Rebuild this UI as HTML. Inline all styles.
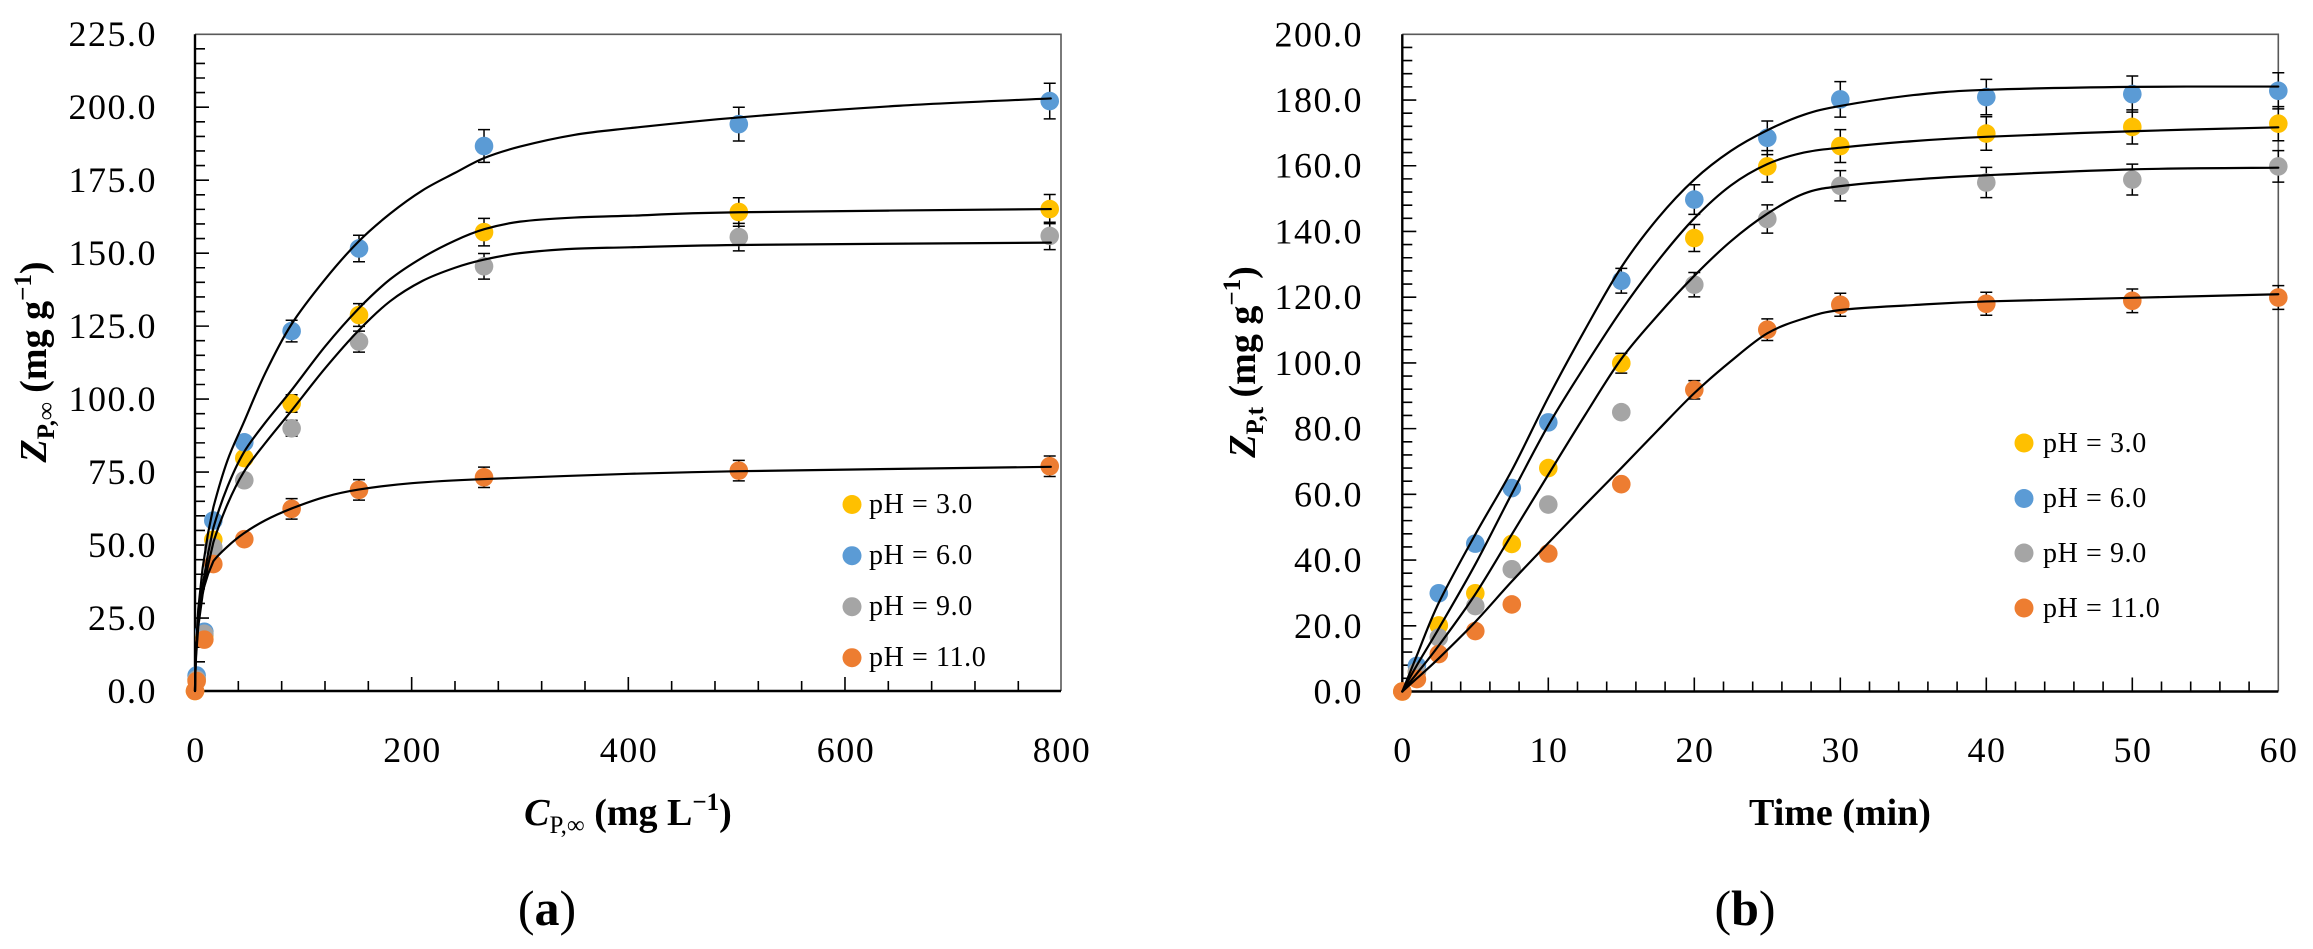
<!DOCTYPE html>
<html>
<head>
<meta charset="utf-8">
<style>
html,body{margin:0;padding:0;background:#fff;}
svg{display:block;}
.tk{font-family:"Liberation Serif",serif;font-size:36px;fill:#000;letter-spacing:1.5px;}
.ttl{font-family:"Liberation Serif",serif;font-size:38px;font-weight:bold;fill:#000;}
.lg{font-family:"Liberation Serif",serif;font-size:28px;fill:#000;letter-spacing:0.6px;}
.ns{vector-effect:non-scaling-stroke;}
</style>
</head>
<body>
<svg width="2313" height="949" viewBox="0 0 2313 949" xmlns="http://www.w3.org/2000/svg">
<rect width="2313" height="949" fill="#fff"/>

<!-- ===================== LEFT CHART ===================== -->
<path d="M195 34.3H1061V691" fill="none" stroke="#595959" stroke-width="1.6"/>
<path d="M195 34.3V691H1061" fill="none" stroke="#000" stroke-width="2.4"/>

<g transform="translate(195,691) scale(1.0833,-2.919)" fill="none" stroke="#000">
  <path class="ns" stroke-width="1.6" d="M0 5h9.23M0 10h9.23M0 15h9.23M0 20h9.23M0 30h9.23M0 35h9.23M0 40h9.23M0 45h9.23M0 55h9.23M0 60h9.23M0 65h9.23M0 70h9.23M0 80h9.23M0 85h9.23M0 90h9.23M0 95h9.23M0 105h9.23M0 110h9.23M0 115h9.23M0 120h9.23M0 130h9.23M0 135h9.23M0 140h9.23M0 145h9.23M0 155h9.23M0 160h9.23M0 165h9.23M0 170h9.23M0 180h9.23M0 185h9.23M0 190h9.23M0 195h9.23M0 205h9.23M0 210h9.23M0 215h9.23M0 220h9.23
  M0 25h12.92M0 50h12.92M0 75h12.92M0 100h12.92M0 125h12.92M0 150h12.92M0 175h12.92M0 200h12.92"/>
  <path class="ns" stroke-width="1.6" d="M40 0v3.43M80 0v3.43M120 0v3.43M160 0v3.43M240 0v3.43M280 0v3.43M320 0v3.43M360 0v3.43M440 0v3.43M480 0v3.43M520 0v3.43M560 0v3.43M640 0v3.43M680 0v3.43M720 0v3.43M760 0v3.43
  M200 0v4.8M400 0v4.8M600 0v4.8"/>
</g>

<g transform="translate(195,691) scale(1.0833,-2.919)">
  <!-- yellow pH 3 -->
  <path class="ns" stroke="#000" stroke-width="1.5" fill="none" d="M89.2 95.5V101.5M83.66 95.5H94.74M83.66 101.5H94.74M151.4 124.9V132.7M145.86 124.9H156.94M145.86 132.7H156.94M266.8 152.5V161.9M261.26 152.5H272.34M261.26 161.9H272.34M502 159.2V169M496.46 159.2H507.54M496.46 169H507.54M789 160.1V170.1M783.46 160.1H794.54M783.46 170.1H794.54"/>
  <g fill="#FFC000">
    <ellipse cx="0" cy="0" rx="8.585" ry="3.186"/>
    <ellipse cx="1.5" cy="4" rx="8.585" ry="3.186"/>
    <ellipse cx="8.6" cy="19" rx="8.585" ry="3.186"/>
    <ellipse cx="16.9" cy="51.8" rx="8.585" ry="3.186"/>
    <ellipse cx="45.5" cy="79.8" rx="8.585" ry="3.186"/>
    <ellipse cx="89.2" cy="98.5" rx="8.585" ry="3.186"/>
    <ellipse cx="151.4" cy="128.8" rx="8.585" ry="3.186"/>
    <ellipse cx="266.8" cy="157.2" rx="8.585" ry="3.186"/>
    <ellipse cx="502" cy="164.1" rx="8.585" ry="3.186"/>
    <ellipse cx="789" cy="165.1" rx="8.585" ry="3.186"/>
  </g>
  <!-- blue pH 6 -->
  <path class="ns" stroke="#000" stroke-width="1.5" fill="none" d="M89.2 119.6V127M83.66 119.6H94.74M83.66 127H94.74M151.4 147.05V156.15M145.86 147.05H156.94M145.86 156.15H156.94M266.8 181.1V192.3M261.26 181.1H272.34M261.26 192.3H272.34M502 188.4V200M496.46 188.4H507.54M496.46 200H507.54M789 196V208.2M783.46 196H794.54M783.46 208.2H794.54"/>
  <g fill="#5B9BD5">
    <ellipse cx="1.5" cy="5.3" rx="8.585" ry="3.186"/>
    <ellipse cx="8.6" cy="20.3" rx="8.585" ry="3.186"/>
    <ellipse cx="16.9" cy="58.4" rx="8.585" ry="3.186"/>
    <ellipse cx="45.5" cy="85.2" rx="8.585" ry="3.186"/>
    <ellipse cx="89.2" cy="123.3" rx="8.585" ry="3.186"/>
    <ellipse cx="151.4" cy="151.6" rx="8.585" ry="3.186"/>
    <ellipse cx="266.8" cy="186.7" rx="8.585" ry="3.186"/>
    <ellipse cx="502" cy="194.2" rx="8.585" ry="3.186"/>
    <ellipse cx="789" cy="202.1" rx="8.585" ry="3.186"/>
  </g>
  <!-- gray pH 9 -->
  <path class="ns" stroke="#000" stroke-width="1.5" fill="none" d="M89.2 87.3V92.7M83.66 87.3H94.74M83.66 92.7H94.74M151.4 116.1V123.3M145.86 116.1H156.94M145.86 123.3H156.94M266.8 141.1V149.9M261.26 141.1H272.34M261.26 149.9H272.34M502 150.8V160.2M496.46 150.8H507.54M496.46 160.2H507.54M789 151.2V160.6M783.46 151.2H794.54M783.46 160.6H794.54"/>
  <g fill="#A5A5A5">
    <ellipse cx="1.5" cy="4" rx="8.585" ry="3.186"/>
    <ellipse cx="8.6" cy="19.6" rx="8.585" ry="3.186"/>
    <ellipse cx="16.9" cy="49.2" rx="8.585" ry="3.186"/>
    <ellipse cx="45.5" cy="72.2" rx="8.585" ry="3.186"/>
    <ellipse cx="89.2" cy="90" rx="8.585" ry="3.186"/>
    <ellipse cx="151.4" cy="119.7" rx="8.585" ry="3.186"/>
    <ellipse cx="266.8" cy="145.5" rx="8.585" ry="3.186"/>
    <ellipse cx="502" cy="155.5" rx="8.585" ry="3.186"/>
    <ellipse cx="789" cy="155.9" rx="8.585" ry="3.186"/>
  </g>
  <!-- orange pH 11 -->
  <path class="ns" stroke="#000" stroke-width="1.5" fill="none" d="M89.2 58.9V65.9M83.66 58.9H94.74M83.66 65.9H94.74M151.4 65.4V72.4M145.86 65.4H156.94M145.86 72.4H156.94M266.8 69.7V76.7M261.26 69.7H272.34M261.26 76.7H272.34M502 72V79M496.46 72H507.54M496.46 79H507.54M789 73.5V80.5M783.46 73.5H794.54M783.46 80.5H794.54"/>
  <g fill="#ED7D31">
    <ellipse cx="0" cy="0" rx="8.585" ry="3.186"/>
    <ellipse cx="1.5" cy="3.4" rx="8.585" ry="3.186"/>
    <ellipse cx="8.6" cy="17.6" rx="8.585" ry="3.186"/>
    <ellipse cx="16.9" cy="43.5" rx="8.585" ry="3.186"/>
    <ellipse cx="45.5" cy="52" rx="8.585" ry="3.186"/>
    <ellipse cx="89.2" cy="62.4" rx="8.585" ry="3.186"/>
    <ellipse cx="151.4" cy="68.9" rx="8.585" ry="3.186"/>
    <ellipse cx="266.8" cy="73.2" rx="8.585" ry="3.186"/>
    <ellipse cx="502" cy="75.5" rx="8.585" ry="3.186"/>
    <ellipse cx="789" cy="77" rx="8.585" ry="3.186"/>
  </g>
  <!-- fitted curves (smoothed) -->
  <g fill="none" stroke="#000" stroke-width="2.2" stroke-linejoin="round" stroke-linecap="round">
    <path class="ns" d="M0,0 L0.3,8 L1,15 L3,28 L7,42 L12,54 L17,63
      C20,67.17 25.33,74.17 30,79
      C34.67,83.83 39.17,87 45,92
      C50.83,97 57.67,103.4 65,109
      C72.33,114.6 79.83,120.27 89,125.6
      C98.17,130.93 109.67,136.27 120,141
      C130.33,145.73 141,150.25 151,154
      C161,157.75 170.17,160.58 180,163.5
      C189.83,166.42 200,169.17 210,171.5
      C220,173.83 230.5,175.65 240,177.5
      C249.5,179.35 257,181.1 267,182.6
      C277,184.1 286.17,185.18 300,186.5
      C313.83,187.82 333.17,189.45 350,190.5
      C366.83,191.55 375.67,191.8 401,192.8
      C426.33,193.8 460.5,195.22 502,196.5
      C543.5,197.78 602,199.42 650,200.5
      C698,201.58 766.67,202.58 790,203"/>
    <path class="ns" d="M0,0 L0.3,6 L1,13 L3,24 L7,36 L12,47 L17,56
      C20,59.83 25.33,65.72 30,70
      C34.67,74.28 39.17,78.03 45,81.7
      C50.83,85.37 57.67,88.45 65,92
      C72.33,95.55 79.83,98.67 89,103
      C98.17,107.33 109.67,113.33 120,118
      C130.33,122.67 141,127.17 151,131
      C161,134.83 170.17,138.08 180,141
      C189.83,143.92 200,146.28 210,148.5
      C220,150.72 230.5,152.68 240,154.3
      C249.5,155.92 257,157.12 267,158.2
      C277,159.28 286.17,160.13 300,160.8
      C313.83,161.47 333.17,161.87 350,162.2
      C366.83,162.53 375.67,162.5 401,162.8
      C426.33,163.1 437.17,163.62 502,164
      C566.83,164.38 742,164.92 790,165.1"/>
    <path class="ns" d="M0,0 L0.3,5 L1,12 L3,22 L7,33 L12,43 L17,51
      C20,54.5 25.33,60 30,64
      C34.67,68 39.17,71.5 45,75
      C50.83,78.5 57.67,81.5 65,85
      C72.33,88.5 79.83,91.75 89,96
      C98.17,100.25 109.67,105.92 120,110.5
      C130.33,115.08 141,119.67 151,123.5
      C161,127.33 170.17,130.67 180,133.5
      C189.83,136.33 200,138.58 210,140.5
      C220,142.42 230.5,143.78 240,145
      C249.5,146.22 257,146.97 267,147.8
      C277,148.63 286.17,149.38 300,150
      C313.83,150.62 333.17,151.17 350,151.5
      C366.83,151.83 375.67,151.78 401,152
      C426.33,152.22 437.17,152.53 502,152.8
      C566.83,153.07 742,153.47 790,153.6"/>
    <path class="ns" d="M0,0 L0.3,7 L1,15 L3,25 L7,34 L12,40 L17,44.5
      C20,46.08 25.33,47.92 30,49.5
      C34.67,51.08 39.17,52.5 45,54
      C50.83,55.5 57.67,57.08 65,58.5
      C72.33,59.92 79.83,61.17 89,62.5
      C98.17,63.83 109.67,65.42 120,66.5
      C130.33,67.58 137.67,68.22 151,69
      C164.33,69.78 180.67,70.6 200,71.2
      C219.33,71.8 233.5,72.07 267,72.6
      C300.5,73.13 361.83,73.95 401,74.4
      C430,74.75 470,75.05 502,75.3
      C566.83,75.7 742,76.55 790,76.8"/>
  </g>
</g>

<!-- left y tick labels -->
<g class="tk" text-anchor="end">
  <text x="157" y="703">0.0</text>
  <text x="157" y="630">25.0</text>
  <text x="157" y="557">50.0</text>
  <text x="157" y="484">75.0</text>
  <text x="157" y="411">100.0</text>
  <text x="157" y="338">125.0</text>
  <text x="157" y="265">150.0</text>
  <text x="157" y="192">175.0</text>
  <text x="157" y="119">200.0</text>
  <text x="157" y="46">225.0</text>
</g>
<g class="tk" text-anchor="middle">
  <text x="196" y="762">0</text>
  <text x="412.5" y="762">200</text>
  <text x="629" y="762">400</text>
  <text x="846" y="762">600</text>
  <text x="1062" y="762">800</text>
</g>

<text class="ttl" x="628" y="825" text-anchor="middle"><tspan font-style="italic">C</tspan><tspan font-size="25" font-weight="normal" dy="8">P,∞</tspan><tspan dy="-8"> (mg L</tspan><tspan font-size="25" dy="-15">−1</tspan><tspan dy="15">)</tspan></text>
<text class="ttl" transform="translate(46,362) rotate(-90)" text-anchor="middle"><tspan font-style="italic">Z</tspan><tspan font-size="25" dy="8">P,∞</tspan><tspan dy="-8"> (mg g</tspan><tspan font-size="25" dy="-15">−1</tspan><tspan dy="15">)</tspan></text>

<g>
  <circle cx="852" cy="504.5" r="9.5" fill="#FFC000"/>
  <circle cx="852" cy="555.7" r="9.5" fill="#5B9BD5"/>
  <circle cx="852" cy="606.7" r="9.5" fill="#A5A5A5"/>
  <circle cx="852" cy="657.7" r="9.5" fill="#ED7D31"/>
</g>
<g class="lg">
  <text x="869" y="513">pH = 3.0</text>
  <text x="869" y="564">pH = 6.0</text>
  <text x="869" y="615">pH = 9.0</text>
  <text x="869" y="666">pH = 11.0</text>
</g>

<text x="547" y="925" text-anchor="middle" font-family="Liberation Serif, serif" font-size="50" fill="#000">(<tspan font-weight="bold">a</tspan>)</text>

<!-- ===================== RIGHT CHART ===================== -->
<path d="M1402.3 34.3H2278.3V691.5" fill="none" stroke="#595959" stroke-width="1.6"/>
<path d="M1402.3 34.3V691.5H2278.3" fill="none" stroke="#000" stroke-width="2.4"/>

<g transform="translate(1402.3,691.5) scale(14.6,-3.286)" fill="none" stroke="#000">
  <path class="ns" stroke-width="1.6" d="M0 4h0.685M0 8h0.685M0 12h0.685M0 16h0.685M0 24h0.685M0 28h0.685M0 32h0.685M0 36h0.685M0 44h0.685M0 48h0.685M0 52h0.685M0 56h0.685M0 64h0.685M0 68h0.685M0 72h0.685M0 76h0.685M0 84h0.685M0 88h0.685M0 92h0.685M0 96h0.685M0 104h0.685M0 108h0.685M0 112h0.685M0 116h0.685M0 124h0.685M0 128h0.685M0 132h0.685M0 136h0.685M0 144h0.685M0 148h0.685M0 152h0.685M0 156h0.685M0 164h0.685M0 168h0.685M0 172h0.685M0 176h0.685M0 184h0.685M0 188h0.685M0 192h0.685M0 196h0.685
  M0 20h0.959M0 40h0.959M0 60h0.959M0 80h0.959M0 100h0.959M0 120h0.959M0 140h0.959M0 160h0.959M0 180h0.959"/>
  <path class="ns" stroke-width="1.6" d="M2 0v3.04M4 0v3.04M6 0v3.04M8 0v3.04M12 0v3.04M14 0v3.04M16 0v3.04M18 0v3.04M22 0v3.04M24 0v3.04M26 0v3.04M28 0v3.04M32 0v3.04M34 0v3.04M36 0v3.04M38 0v3.04M42 0v3.04M44 0v3.04M46 0v3.04M48 0v3.04M52 0v3.04M54 0v3.04M56 0v3.04M58 0v3.04
  M10 0v4.26M20 0v4.26M30 0v4.26M40 0v4.26M50 0v4.26"/>
</g>

<g transform="translate(1402.3,691.5) scale(14.6,-3.286)">
  <path class="ns" stroke="#000" stroke-width="1.5" fill="none" d="M15 96.9V102.9M14.59 96.9H15.41M14.59 102.9H15.41M20 133.9V142.1M19.59 133.9H20.41M19.59 142.1H20.41M25 155V164.6M24.59 155H25.41M24.59 164.6H25.41M30 161V171M29.59 161H30.41M29.59 171H30.41M40 164.7V174.9M39.59 164.7H40.41M39.59 174.9H40.41M50 166.6V177M49.59 166.6H50.41M49.59 177H50.41M60 167.6V178M59.59 167.6H60.41M59.59 178H60.41"/>
  <g fill="#FFC000">
    <ellipse cx="0" cy="0" rx="0.637" ry="2.83"/>
    <ellipse cx="1" cy="6" rx="0.637" ry="2.83"/>
    <ellipse cx="2.5" cy="20.1" rx="0.637" ry="2.83"/>
    <ellipse cx="5" cy="29.9" rx="0.637" ry="2.83"/>
    <ellipse cx="7.5" cy="44.9" rx="0.637" ry="2.83"/>
    <ellipse cx="10" cy="68" rx="0.637" ry="2.83"/>
    <ellipse cx="15" cy="99.9" rx="0.637" ry="2.83"/>
    <ellipse cx="20" cy="138" rx="0.637" ry="2.83"/>
    <ellipse cx="25" cy="159.8" rx="0.637" ry="2.83"/>
    <ellipse cx="30" cy="166" rx="0.637" ry="2.83"/>
    <ellipse cx="40" cy="169.8" rx="0.637" ry="2.83"/>
    <ellipse cx="50" cy="171.8" rx="0.637" ry="2.83"/>
    <ellipse cx="60" cy="172.8" rx="0.637" ry="2.83"/>
  </g>
  <path class="ns" stroke="#000" stroke-width="1.5" fill="none" d="M15 121.25V128.75M14.59 121.25H15.41M14.59 128.75H15.41M20 145.2V154.2M19.59 145.2H20.41M19.59 154.2H20.41M25 163.4V173.6M24.59 163.4H25.41M24.59 173.6H25.41M30 174.8V185.6M29.59 174.8H30.41M29.59 185.6H30.41M40 175.5V186.3M39.59 175.5H40.41M39.59 186.3H40.41M50 176.3V187.3M49.59 176.3H50.41M49.59 187.3H50.41M60 177.3V188.3M59.59 177.3H60.41M59.59 188.3H60.41"/>
  <g fill="#5B9BD5">
    <ellipse cx="1" cy="7.8" rx="0.637" ry="2.83"/>
    <ellipse cx="2.5" cy="29.9" rx="0.637" ry="2.83"/>
    <ellipse cx="5" cy="45" rx="0.637" ry="2.83"/>
    <ellipse cx="7.5" cy="61.9" rx="0.637" ry="2.83"/>
    <ellipse cx="10" cy="81.9" rx="0.637" ry="2.83"/>
    <ellipse cx="15" cy="125" rx="0.637" ry="2.83"/>
    <ellipse cx="20" cy="149.7" rx="0.637" ry="2.83"/>
    <ellipse cx="25" cy="168.5" rx="0.637" ry="2.83"/>
    <ellipse cx="30" cy="180.2" rx="0.637" ry="2.83"/>
    <ellipse cx="40" cy="180.9" rx="0.637" ry="2.83"/>
    <ellipse cx="50" cy="181.8" rx="0.637" ry="2.83"/>
    <ellipse cx="60" cy="182.8" rx="0.637" ry="2.83"/>
  </g>
  <path class="ns" stroke="#000" stroke-width="1.5" fill="none" d="M20 120.1V127.5M19.59 120.1H20.41M19.59 127.5H20.41M25 139.5V148.1M24.59 139.5H25.41M24.59 148.1H25.41M30 149.3V158.5M29.59 149.3H30.41M29.59 158.5H30.41M40 150.3V159.5M39.59 150.3H40.41M39.59 159.5H40.41M50 151.1V160.5M49.59 151.1H50.41M49.59 160.5H50.41M60 155V164.6M59.59 155H60.41M59.59 164.6H60.41"/>
  <g fill="#A5A5A5">
    <ellipse cx="1" cy="6" rx="0.637" ry="2.83"/>
    <ellipse cx="2.5" cy="16.4" rx="0.637" ry="2.83"/>
    <ellipse cx="5" cy="26" rx="0.637" ry="2.83"/>
    <ellipse cx="7.5" cy="37.2" rx="0.637" ry="2.83"/>
    <ellipse cx="10" cy="56.9" rx="0.637" ry="2.83"/>
    <ellipse cx="15" cy="85" rx="0.637" ry="2.83"/>
    <ellipse cx="20" cy="123.8" rx="0.637" ry="2.83"/>
    <ellipse cx="25" cy="143.8" rx="0.637" ry="2.83"/>
    <ellipse cx="30" cy="153.9" rx="0.637" ry="2.83"/>
    <ellipse cx="40" cy="154.9" rx="0.637" ry="2.83"/>
    <ellipse cx="50" cy="155.8" rx="0.637" ry="2.83"/>
    <ellipse cx="60" cy="159.8" rx="0.637" ry="2.83"/>
  </g>
  <path class="ns" stroke="#000" stroke-width="1.5" fill="none" d="M20 89V94.6M19.59 89H20.41M19.59 94.6H20.41M25 106.8V113.4M24.59 106.8H25.41M24.59 113.4H25.41M30 114.2V121.2M29.59 114.2H30.41M29.59 121.2H30.41M40 114.5V121.5M39.59 114.5H40.41M39.59 121.5H40.41M50 115.3V122.5M49.59 115.3H50.41M49.59 122.5H50.41M60 116.3V123.5M59.59 116.3H60.41M59.59 123.5H60.41"/>
  <g fill="#ED7D31">
    <ellipse cx="0" cy="0" rx="0.637" ry="2.83"/>
    <ellipse cx="1" cy="3.8" rx="0.637" ry="2.83"/>
    <ellipse cx="2.5" cy="11.4" rx="0.637" ry="2.83"/>
    <ellipse cx="5" cy="18.4" rx="0.637" ry="2.83"/>
    <ellipse cx="7.5" cy="26.5" rx="0.637" ry="2.83"/>
    <ellipse cx="10" cy="42" rx="0.637" ry="2.83"/>
    <ellipse cx="15" cy="63.1" rx="0.637" ry="2.83"/>
    <ellipse cx="20" cy="91.8" rx="0.637" ry="2.83"/>
    <ellipse cx="25" cy="110.1" rx="0.637" ry="2.83"/>
    <ellipse cx="30" cy="117.7" rx="0.637" ry="2.83"/>
    <ellipse cx="40" cy="118" rx="0.637" ry="2.83"/>
    <ellipse cx="50" cy="118.9" rx="0.637" ry="2.83"/>
    <ellipse cx="60" cy="119.9" rx="0.637" ry="2.83"/>
  </g>
  <g fill="none" stroke="#000" stroke-width="2.2" stroke-linejoin="round" stroke-linecap="round">
    <path class="ns" d="M0,0 C0.167,1.83 0.583,6.5 1,11
      C1.417,15.5 1.833,20.87 2.5,27
      C3.167,33.13 4.167,41.08 5,47.8
      C5.833,54.52 6.667,60.35 7.5,67.3
      C8.333,74.25 9.167,82.38 10,89.5
      C10.833,96.62 11.667,103.4 12.5,110
      C13.333,116.6 14.167,123.43 15,129.1
      C15.833,134.77 16.667,139.55 17.5,144
      C18.333,148.45 19.167,152.38 20,155.8
      C20.833,159.22 21.667,162 22.5,164.5
      C23.333,167 24.167,168.97 25,170.8
      C25.833,172.63 26.667,174.27 27.5,175.5
      C28.333,176.73 28.75,177.2 30,178.2
      C31.25,179.2 33.33,180.68 35,181.5
      C36.67,182.32 37.5,182.68 40,183.1
      C42.5,183.52 46.67,183.83 50,184
      C53.33,184.17 58.33,184.08 60,184.1"/>
    <path class="ns" d="M0,0 C0.167,1.33 0.583,4.8 1,8
      C1.417,11.2 1.833,14.08 2.5,19.2
      C3.167,24.32 4.167,31.87 5,38.7
      C5.833,45.53 6.667,53.15 7.5,60.2
      C8.333,67.25 9.167,74.53 10,81
      C10.833,87.47 11.667,93.17 12.5,99
      C13.333,104.83 14.167,110.67 15,116
      C15.833,121.33 16.667,126.33 17.5,131
      C18.333,135.67 19.167,140.17 20,144
      C20.833,147.83 21.667,151.25 22.5,154
      C23.333,156.75 24.167,158.83 25,160.5
      C25.833,162.17 26.667,163.17 27.5,164
      C28.333,164.83 28.75,164.92 30,165.5
      C31.25,166.08 33.33,166.95 35,167.5
      C36.67,168.05 37.5,168.3 40,168.8
      C42.5,169.3 46.67,170.02 50,170.5
      C53.33,170.98 58.33,171.5 60,171.7"/>
    <path class="ns" d="M0,0 C0.167,0.92 0.583,3.17 1,5.5
      C1.417,7.83 1.833,9.98 2.5,14
      C3.167,18.02 4.167,23.97 5,29.6
      C5.833,35.23 6.667,41.73 7.5,47.8
      C8.333,53.87 9.167,59.97 10,66
      C10.833,72.03 11.667,78.13 12.5,84
      C13.333,89.87 14.167,96.12 15,101.2
      C15.833,106.28 16.667,110.28 17.5,114.5
      C18.333,118.72 19.167,122.75 20,126.5
      C20.833,130.25 21.667,133.85 22.5,137
      C23.333,140.15 24.167,142.98 25,145.4
      C25.833,147.82 26.667,150.1 27.5,151.5
      C28.333,152.9 28.75,153.08 30,153.8
      C31.25,154.52 33.33,155.25 35,155.8
      C36.67,156.35 37.5,156.58 40,157.1
      C42.5,157.62 46.67,158.52 50,158.9
      C53.33,159.28 58.33,159.32 60,159.4"/>
    <path class="ns" d="M0,0 C0.167,0.67 0.583,2.32 1,4
      C1.417,5.68 1.833,7.23 2.5,10.1
      C3.167,12.97 4.167,17.3 5,21.2
      C5.833,25.1 6.667,29.5 7.5,33.5
      C8.333,37.5 9.167,41.33 10,45.2
      C10.833,49.07 11.667,52.9 12.5,56.7
      C13.333,60.5 14.167,64.2 15,68
      C15.833,71.8 16.667,75.7 17.5,79.5
      C18.333,83.3 19.167,87.3 20,90.8
      C20.833,94.3 21.667,97.47 22.5,100.5
      C23.333,103.53 24.167,106.83 25,109
      C25.833,111.17 26.667,112.32 27.5,113.5
      C28.333,114.68 28.75,115.42 30,116.1
      C31.25,116.78 33.33,117.17 35,117.6
      C36.67,118.03 37.5,118.33 40,118.7
      C42.5,119.07 46.67,119.43 50,119.8
      C53.33,120.17 58.33,120.72 60,120.9"/>
  </g>
</g>

<g class="tk" text-anchor="end">
  <text x="1363" y="703.5">0.0</text>
  <text x="1363" y="637.8">20.0</text>
  <text x="1363" y="572.1">40.0</text>
  <text x="1363" y="506.3">60.0</text>
  <text x="1363" y="440.6">80.0</text>
  <text x="1363" y="374.9">100.0</text>
  <text x="1363" y="309.2">120.0</text>
  <text x="1363" y="243.5">140.0</text>
  <text x="1363" y="177.7">160.0</text>
  <text x="1363" y="112">180.0</text>
  <text x="1363" y="46.3">200.0</text>
</g>
<g class="tk" text-anchor="middle">
  <text x="1403" y="762">0</text>
  <text x="1549" y="762">10</text>
  <text x="1695" y="762">20</text>
  <text x="1841" y="762">30</text>
  <text x="1987" y="762">40</text>
  <text x="2133" y="762">50</text>
  <text x="2279" y="762">60</text>
</g>

<text class="ttl" x="1840" y="825" text-anchor="middle">Time (min)</text>
<text class="ttl" transform="translate(1255,362) rotate(-90)" text-anchor="middle"><tspan font-style="italic">Z</tspan><tspan font-size="25" dy="8">P,t</tspan><tspan dy="-8"> (mg g</tspan><tspan font-size="25" dy="-15">−1</tspan><tspan dy="15">)</tspan></text>

<g>
  <circle cx="2024" cy="443" r="9.5" fill="#FFC000"/>
  <circle cx="2024" cy="498.5" r="9.5" fill="#5B9BD5"/>
  <circle cx="2024" cy="553" r="9.5" fill="#A5A5A5"/>
  <circle cx="2024" cy="608" r="9.5" fill="#ED7D31"/>
</g>
<g class="lg">
  <text x="2043" y="452">pH = 3.0</text>
  <text x="2043" y="507">pH = 6.0</text>
  <text x="2043" y="562">pH = 9.0</text>
  <text x="2043" y="617">pH = 11.0</text>
</g>

<text x="1745" y="925" text-anchor="middle" font-family="Liberation Serif, serif" font-size="50" fill="#000">(<tspan font-weight="bold">b</tspan>)</text>

</svg>
</body>
</html>
